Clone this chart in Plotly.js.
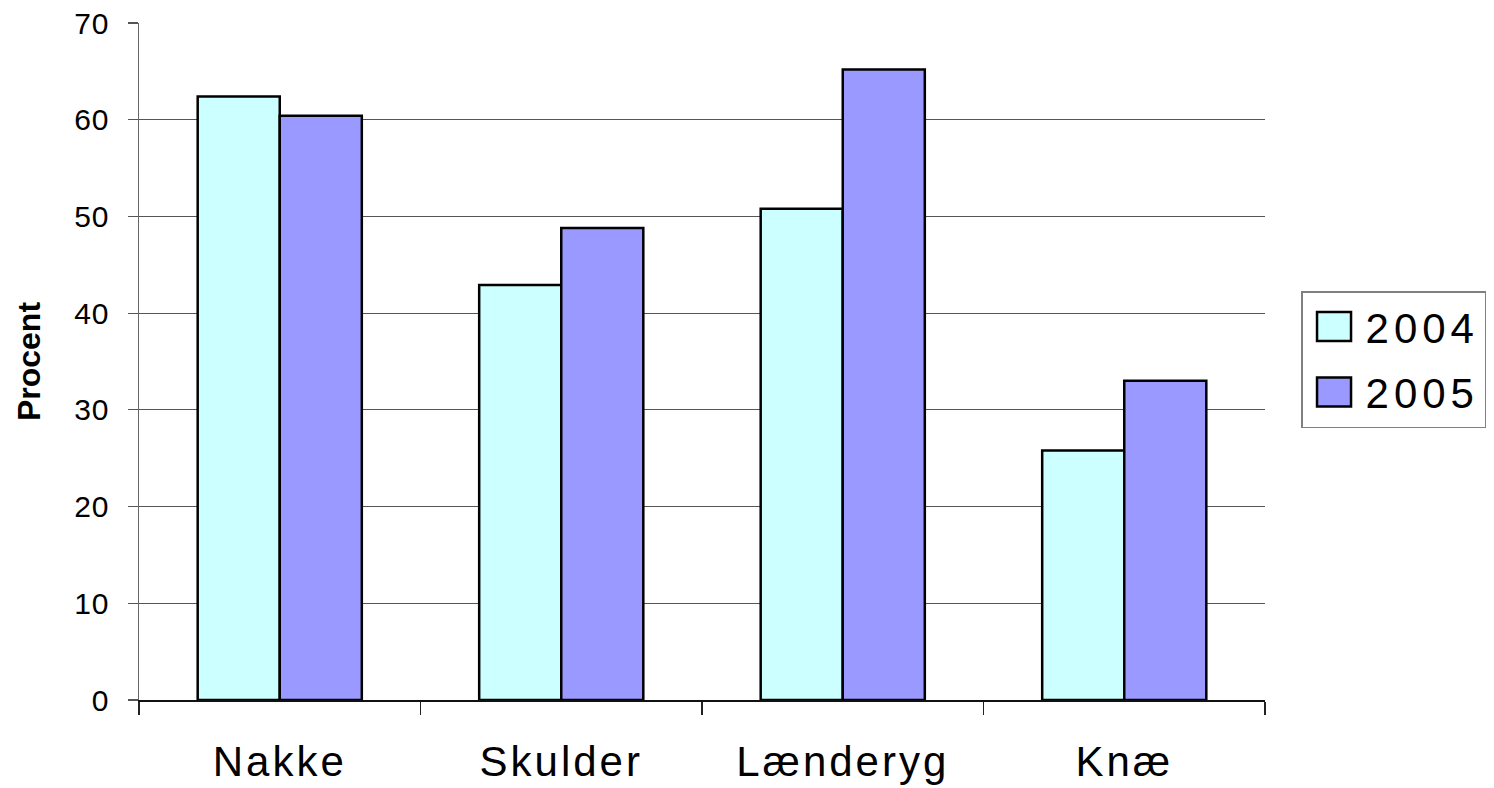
<!DOCTYPE html>
<html>
<head>
<meta charset="utf-8">
<script src="https://cdn.plot.ly/plotly-3.0.1.min.js"></script>
<style>
html, body { margin: 0; padding: 0; background: #fff; }
#chart { width: 1494px; height: 788px; }
.xtick text { letter-spacing: 3px; }
.ytick text { letter-spacing: 1px; }
.legendtext { letter-spacing: 5px; }
.legend .legendpoints path { d: path('M17,14.5H-17V-14.5H17Z'); stroke-width: 2.5px !important; }
</style>
</head>
<body>
<div id="chart"></div>
<script>
var categories = ['Nakke', 'Skulder', 'Lænderyg', 'Knæ'];
var seriesNames = ['2004', '2005'];
var values2004 = [62.4, 42.9, 50.8, 25.8];
var values2005 = [60.4, 48.8, 65.2, 33.0];
var yTickValues = [0, 10, 20, 30, 40, 50, 60, 70];

var FONT = 'Liberation Sans, Arial, Helvetica, sans-serif';

var traces = [
  {
    type: 'bar', name: seriesNames[0], x: categories, y: values2004,
    marker: { color: '#CCFFFF', line: { color: '#000000', width: 2.5 } },
    legendgroup: 'a', hoverinfo: 'x+y+name'
  },
  {
    type: 'bar', name: seriesNames[1], x: categories, y: values2005,
    marker: { color: '#9999FF', line: { color: '#000000', width: 2.5 } },
    legendgroup: 'b', hoverinfo: 'x+y+name'
  }
];

var layout = {
  width: 1494, height: 788,
  margin: { l: 139, r: 229, t: 23, b: 88, pad: 0, autoexpand: false },
  paper_bgcolor: '#ffffff', plot_bgcolor: '#ffffff',
  font: { family: FONT, color: '#000000' },
  barmode: 'group', bargap: 0.417, bargroupgap: 0,
  showlegend: true,
  legend: {
    x: 1.032, xanchor: 'left', y: 0.604, yanchor: 'top',
    bordercolor: '#808080', borderwidth: 1.5, bgcolor: '#ffffff',
    font: { family: FONT, size: 42, color: '#000000' },
    itemwidth: 53,
    tracegroupgap: 8, traceorder: 'grouped', itemclick: false, itemdoubleclick: false
  },
  xaxis: {
    type: 'category', tickson: 'boundaries', ticks: 'outside', ticklen: 13, tickwidth: 1.2,
    tickcolor: '#222222', showline: true, linecolor: '#111111', linewidth: 1.5,
    showgrid: false, zeroline: false, ticklabelstandoff: 24,
    tickfont: { family: FONT, size: 42, color: '#000000' }, fixedrange: true
  },
  yaxis: {
    range: [0, 70], tickvals: yTickValues, ticktext: yTickValues.map(String),
    ticks: 'outside', ticklen: 10, tickwidth: 1.2, tickcolor: '#555555',
    showline: true, linecolor: '#666666', linewidth: 1.5,
    showgrid: true, gridcolor: '#555555', gridwidth: 1.2, zeroline: false,
    ticklabelstandoff: 12, automargin: true,
    tickfont: { family: FONT, size: 30, color: '#000000' },
    title: { text: '<b>Procent</b>', font: { family: FONT, size: 32, color: '#000000' }, standoff: 24 },
    fixedrange: true
  }
};

Plotly.newPlot('chart', traces, layout, { displayModeBar: false, staticPlot: true });
</script>
</body>
</html>
